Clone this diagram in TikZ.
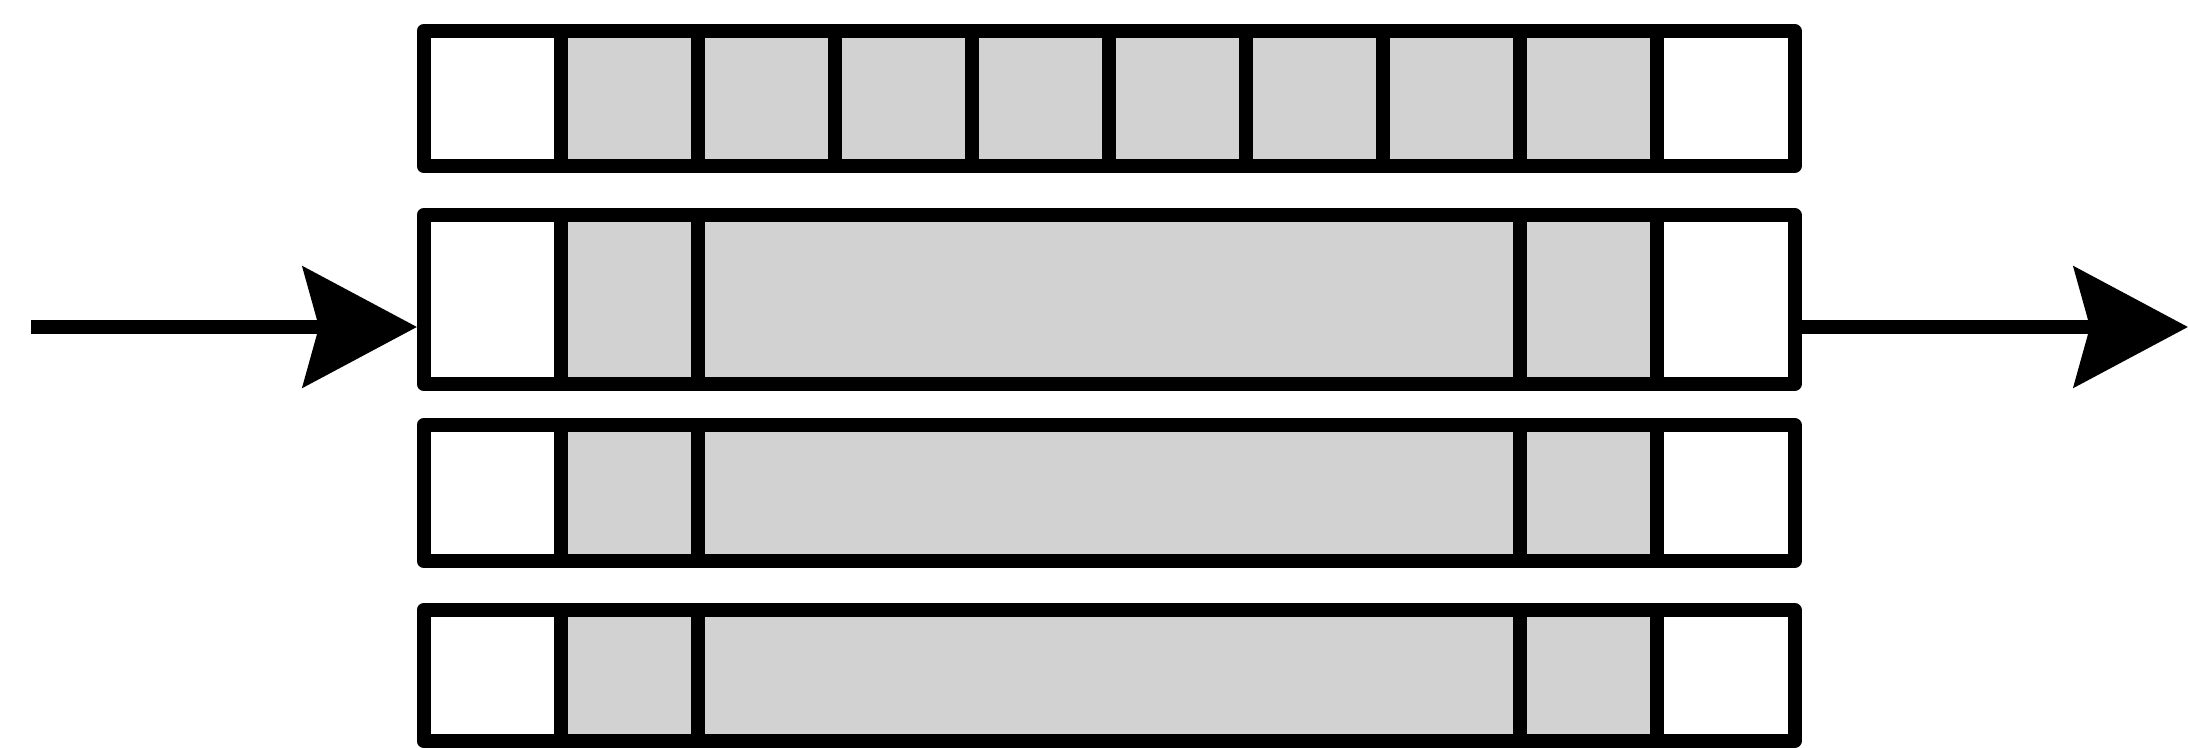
\documentclass[tikz,border=0pt]{standalone}
\usepackage{tikz}
\usetikzlibrary{arrows.meta}

\tikzset{
    cell/.style={draw=black,line width=1.4mm,line join=round},
    shade/.style={fill=gray!35},
    flow/.style={line width=1.35mm,-{Stealth[length=11.4mm,width=12mm,inset=1.6mm]}}
}

\begin{document}
\begin{tikzpicture}

\useasboundingbox (0,0) rectangle (21.88,7.48);

\def\xa{4.235}
\def\w{1.371}

% Top row: ten cells
\fill[shade] ({\xa+\w},5.82) rectangle ({\xa+9*\w},7.17);
\draw[cell] (\xa,5.82) rectangle ({\xa+10*\w},7.17);
\foreach \k in {1,...,9}
    \draw[cell] ({\xa+\k*\w},5.82) -- ({\xa+\k*\w},7.17);

% Lower rows: wide middle cell
\foreach \yb/\yt in {3.64/5.33, 1.87/3.23, 0.07/1.38} {
    \fill[shade] ({\xa+\w},\yb) rectangle ({\xa+9*\w},\yt);
    \draw[cell] (\xa,\yb) rectangle ({\xa+10*\w},\yt);
    \foreach \k in {1,2,8,9}
        \draw[cell] ({\xa+\k*\w},\yb) -- ({\xa+\k*\w},\yt);
}

% Input and output
\coordinate (src) at (0.31,4.21);
\coordinate (inlet) at (4.17,4.21);
\coordinate (outlet) at ({\xa+10*\w},4.21);
\coordinate (sink) at (21.88,4.21);

\draw[flow] (src) -- (inlet);
\draw[flow] (outlet) -- (sink);

\end{tikzpicture}
\end{document}
